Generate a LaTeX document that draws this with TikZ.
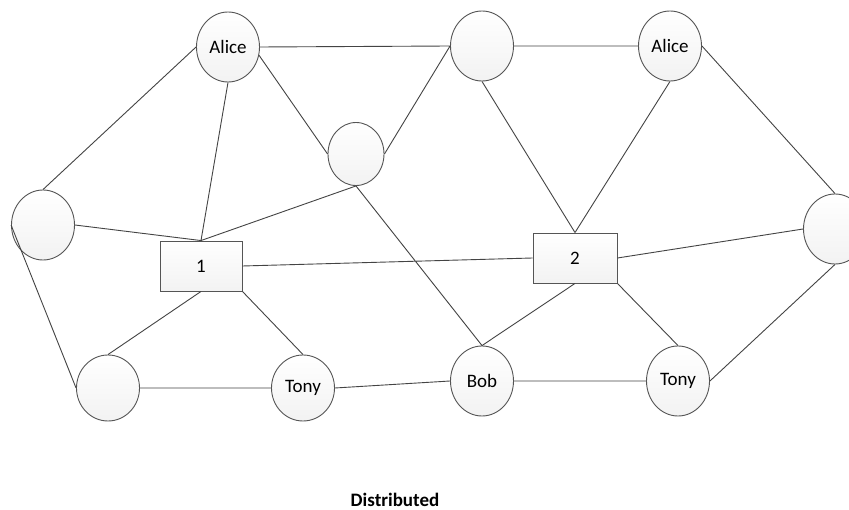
\documentclass[tikz,border=0pt]{standalone}
\usepackage{fontspec}
\setmainfont{Carlito}
\usetikzlibrary{shapes.geometric}
\definecolor{edgegray}{HTML}{444444}
\definecolor{rimgray}{HTML}{555555}
\tikzset{
  peer/.style={ellipse, draw=rimgray, line width=0.9pt, minimum width=63pt,
    minimum height=70pt, inner sep=0pt, shading=axis, top color=white,
    bottom color=gray!10, font=\fontsize{19}{22}\selectfont},
  smallpeer/.style={peer, minimum width=56pt, minimum height=63pt},
  hub/.style={rectangle, draw=rimgray, line width=0.9pt, minimum width=82pt,
    minimum height=50pt, inner sep=0pt, shading=axis, top color=white,
    bottom color=gray!10, font=\fontsize{19}{22}\selectfont},
  link/.style={draw=edgegray, line width=0.9pt},
  caption/.style={font=\fontsize{19}{22}\selectfont\bfseries}
}
\begin{document}
\begin{tikzpicture}[x=1pt, y=-1pt]
  \useasboundingbox (0,0) rectangle (849,510);
  \clip (0,0) rectangle (849,510);
  \fill[white] (0,0) rectangle (849,510);

  % node centres
  \coordinate (c-alice1) at (228,47);
  \coordinate (c-topmid) at (482,46);
  \coordinate (c-alice2) at (670,46);
  \coordinate (c-mid) at (356,154);
  \coordinate (c-left) at (43,225);
  \coordinate (c-right) at (835,229);
  \coordinate (c-box1) at (201,266);
  \coordinate (c-box2) at (575,258);
  \coordinate (c-bl) at (108,388);
  \coordinate (c-tony1) at (303,388);
  \coordinate (c-bob) at (482,381);
  \coordinate (c-tony2) at (678,381);

  % peers and the two hubs
  \node[peer] (alice1) at (c-alice1) {Alice};
  \node[peer] (topmid) at (c-topmid) {};
  \node[peer] (alice2) at (c-alice2) {Alice};
  \node[smallpeer] (mid) at (c-mid) {};
  \node[peer] (left) at (c-left) {};
  \node[peer] (right) at (c-right) {};
  \node[hub] (box1) at (c-box1) {1};
  \node[hub, minimum width=84pt] (box2) at (c-box2) {2};
  \node[peer, minimum height=66pt] (bl) at (c-bl) {};
  \node[peer, minimum height=66pt] (tony1) at (c-tony1) {Tony};
  \node[peer] (bob) at (c-bob) {Bob};
  \node[peer] (tony2) at (c-tony2) {Tony};

  % links, attached to the shapes' connection points
  \path[link]
    (alice1.east) -- (topmid.west)
    (alice1.-15) -- (mid.west)
    (alice1.west) -- (left.north)
    (alice1.south) -- (box1.north)
    (topmid.west) -- (mid.east)
    (topmid.east) -- (alice2.west)
    (topmid.south) -- (box2.north)
    (alice2.south) -- (box2.north)
    (alice2.east) -- (right.north)
    (mid.south) -- (box1.north)
    (mid.south) -- (bob.north)
    (left.east) -- (box1.north)
    (left.west) -- (bl.west)
    (box1.east) -- (box2.west)
    (box1.south) -- (bl.north)
    (box1.south east) -- (tony1.north)
    (box2.east) -- (right.west)
    (box2.south) -- (bob.north)
    (box2.south east) -- (tony2.north)
    (bl.east) -- (tony1.west)
    (tony1.east) -- (bob.west)
    (bob.east) -- (tony2.west)
    (tony2.east) -- (right.south);

  \node[caption] (title) at (395,500) {Distributed};
\end{tikzpicture}
\end{document}
